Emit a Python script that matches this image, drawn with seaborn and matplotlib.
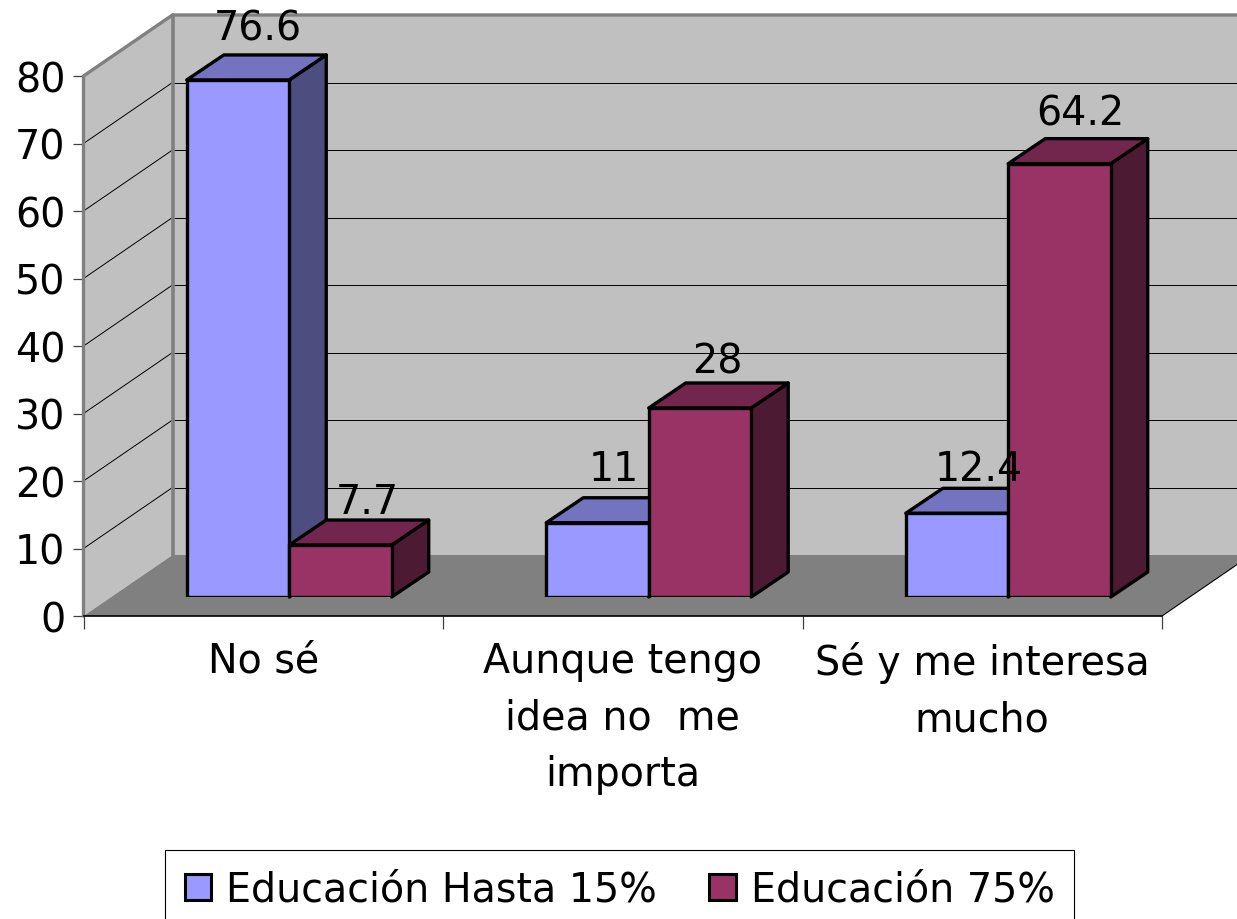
import pandas as pd
import matplotlib
matplotlib.use("Agg")
import matplotlib.pyplot as plt
import seaborn as sns
from matplotlib.patches import Polygon

# --- data ---
categories = ["No sé", "Aunque tengo\nidea no  me\nimporta", "Sé y me interesa\nmucho"]
series_names = ["Educación Hasta 15%", "Educación 75%"]
values_low = [76.6, 11, 12.4]
values_high = [7.7, 28, 64.2]
y_ticks = [0, 10, 20, 30, 40, 50, 60, 70, 80]

# face colours per series: front, top, side
front_colors = ["#9999FF", "#993366"]
top_colors = ["#7373BF", "#73264D"]
side_colors = ["#4D4D80", "#4D1A33"]

df = pd.DataFrame({
    "categoria": categories * 2,
    "serie": [series_names[0]] * 3 + [series_names[1]] * 3,
    "valor": values_low + values_high,
})

# --- layout, in pixels of the 1237x920 figure ---
W, H = 1237, 920
FONT_PT = 28.5
plane_left, plane_right, plane_bottom, plane_top = 83.5, 1162, 617, 77
PX_X = 3 / (plane_right - plane_left)  # category units per pixel
PX_Y = 80 / (plane_bottom - plane_top)  # value units per pixel
wall_dx, wall_dy = 89 * PX_X, 61 * PX_Y  # depth of the whole box
bar_dx, bar_dy = 37 * PX_X, 25 * PX_Y  # depth of one bar
shift_x, shift_y = 26, 19  # bars stand this far inside the floor
# where each value label sits from the top middle of its bar, per series
label_dx = [[20, 16, 22], [27, 17, 21]]
label_dy = [[51, 54, 44], [43, 46, 50]]

sns.set_theme(style="white")
# the reference type is a stretched Arial, DejaVu Sans has about that width
plt.rcParams["font.family"] = ["DejaVu Sans"]
plt.rcParams["text.color"] = "black"

fig = plt.figure(figsize=(W / 100, H / 100), dpi=100)


def place(dx=0, dy=0):
    return [(plane_left + dx) / W, 1 - (plane_bottom - dy) / H,
            (plane_right - plane_left) / W, (plane_bottom - plane_top) / H]


ax = fig.add_axes(place())
ax_bars = fig.add_axes(place(shift_x, shift_y))
x0, x1 = -0.5, 2.5
for a in (ax, ax_bars):
    a.set_xlim(x0, x1)
    a.set_ylim(0, 80)
    a.patch.set_alpha(0)

# --- box: left wall, back wall, floor and grid ---
top = y_ticks[-1]
ax.add_patch(Polygon([(x0, 0), (x0 + wall_dx, wall_dy), (x0 + wall_dx, top + wall_dy), (x0, top)],
                     fc="#C0C0C0", ec="none", clip_on=False, zorder=0))
ax.add_patch(Polygon([(x0 + wall_dx, wall_dy), (x1 + wall_dx, wall_dy),
                      (x1 + wall_dx, top + wall_dy), (x0 + wall_dx, top + wall_dy)],
                     fc="#C0C0C0", ec="none", clip_on=False, zorder=0))
ax.add_patch(Polygon([(x0, 0), (x1, 0), (x1 + wall_dx, wall_dy), (x0 + wall_dx, wall_dy)],
                     fc="#808080", ec="none", clip_on=False, zorder=0.5))
for v in y_ticks[1:-1]:
    ax.plot([x0, x0 + wall_dx], [v, v + wall_dy], color="black", lw=0.7, clip_on=False, zorder=0.4)
    ax.plot([x0 + wall_dx, x1 + wall_dx], [v + wall_dy, v + wall_dy], color="black", lw=0.7,
            clip_on=False, zorder=0.4)
# gray frame of the walls
ax.plot([x0, x0, x0 + wall_dx, x1 + wall_dx], [0, top, top + wall_dy, top + wall_dy],
        color="#808080", lw=2.4, clip_on=False, zorder=0.6, solid_joinstyle="miter")
ax.plot([x0 + wall_dx, x0 + wall_dx], [wall_dy, top + wall_dy], color="#808080", lw=2.6,
        clip_on=False, zorder=0.6)
ax.plot([x1, x1 + wall_dx], [0, wall_dy], color="black", lw=0.8, clip_on=False, zorder=0.7)

# --- axes furniture ---
for name, spine in ax.spines.items():
    spine.set_visible(name == "bottom")
ax.spines["bottom"].set_color("black")
ax.spines["bottom"].set_linewidth(1.2)
ax.set_yticks(y_ticks)
ax.set_xticks([-0.5, 0.5, 1.5, 2.5])
ax.set_xticklabels([])
ax.set_xticks([0, 1, 2], minor=True)
ax.set_xticklabels(categories, minor=True, fontsize=FONT_PT, color="black", linespacing=1.54)
ax.tick_params(axis="x", which="major", length=9, width=0.9, color="#404040", bottom=True)
ax.tick_params(axis="x", which="minor", length=0, pad=18, bottom=True)
ax.tick_params(axis="y", length=8, width=0.9, color="#404040", pad=5, left=True,
               labelsize=FONT_PT, labelcolor="black")
ax.set_xlabel("")
ax.set_ylabel("")

# --- bars ---
sns.barplot(data=df, x="categoria", y="valor", hue="serie", hue_order=series_names,
            order=categories, palette=front_colors, saturation=1, width=0.57, gap=0,
            edgecolor="black", linewidth=2.4, ax=ax_bars, zorder=3)
ax_bars.set_xlim(x0, x1)
ax_bars.set_ylim(0, 80)
ax_bars.axis("off")

for i, container in enumerate(ax_bars.containers):
    for j, bar in enumerate(container):
        bx, bw, bh = bar.get_x(), bar.get_width(), bar.get_height()
        ax_bars.add_patch(Polygon([(bx + bw, 0), (bx + bw + bar_dx, bar_dy),
                                   (bx + bw + bar_dx, bh + bar_dy), (bx + bw, bh)],
                                  fc=side_colors[i], ec="black", lw=2.4, clip_on=False,
                                  zorder=1 + i * 0.5, joinstyle="round"))
        ax_bars.add_patch(Polygon([(bx, bh), (bx + bw, bh), (bx + bw + bar_dx, bh + bar_dy),
                                   (bx + bar_dx, bh + bar_dy)],
                                  fc=top_colors[i], ec="black", lw=2.4, clip_on=False,
                                  zorder=1.1 + i * 0.5, joinstyle="round"))
        ax_bars.annotate(f"{bh:g}", (bx + bw / 2, bh),
                         xytext=(label_dx[i][j] * 0.72, label_dy[i][j] * 0.72),
                         textcoords="offset points", ha="center", va="center",
                         fontsize=FONT_PT, color="black", annotation_clip=False, zorder=5)

# --- legend: frame runs off the bottom of the picture ---
handles, labels = ax_bars.get_legend_handles_labels()
if ax_bars.get_legend():
    ax_bars.get_legend().remove()
leg = fig.legend(handles, labels, loc="upper left", bbox_to_anchor=(165 / W, 1 - 851 / H),
                 ncol=2, fontsize=FONT_PT, frameon=True, fancybox=False, framealpha=1,
                 edgecolor="black", borderaxespad=0, borderpad=0.5, handlelength=0.66,
                 handleheight=0.66, handletextpad=0.38, columnspacing=1.33, labelcolor="black")
leg.get_frame().set_linewidth(0.8)
for h in leg.legend_handles:
    h.set_linewidth(2.2)

fig.savefig("out.png", dpi=100)
